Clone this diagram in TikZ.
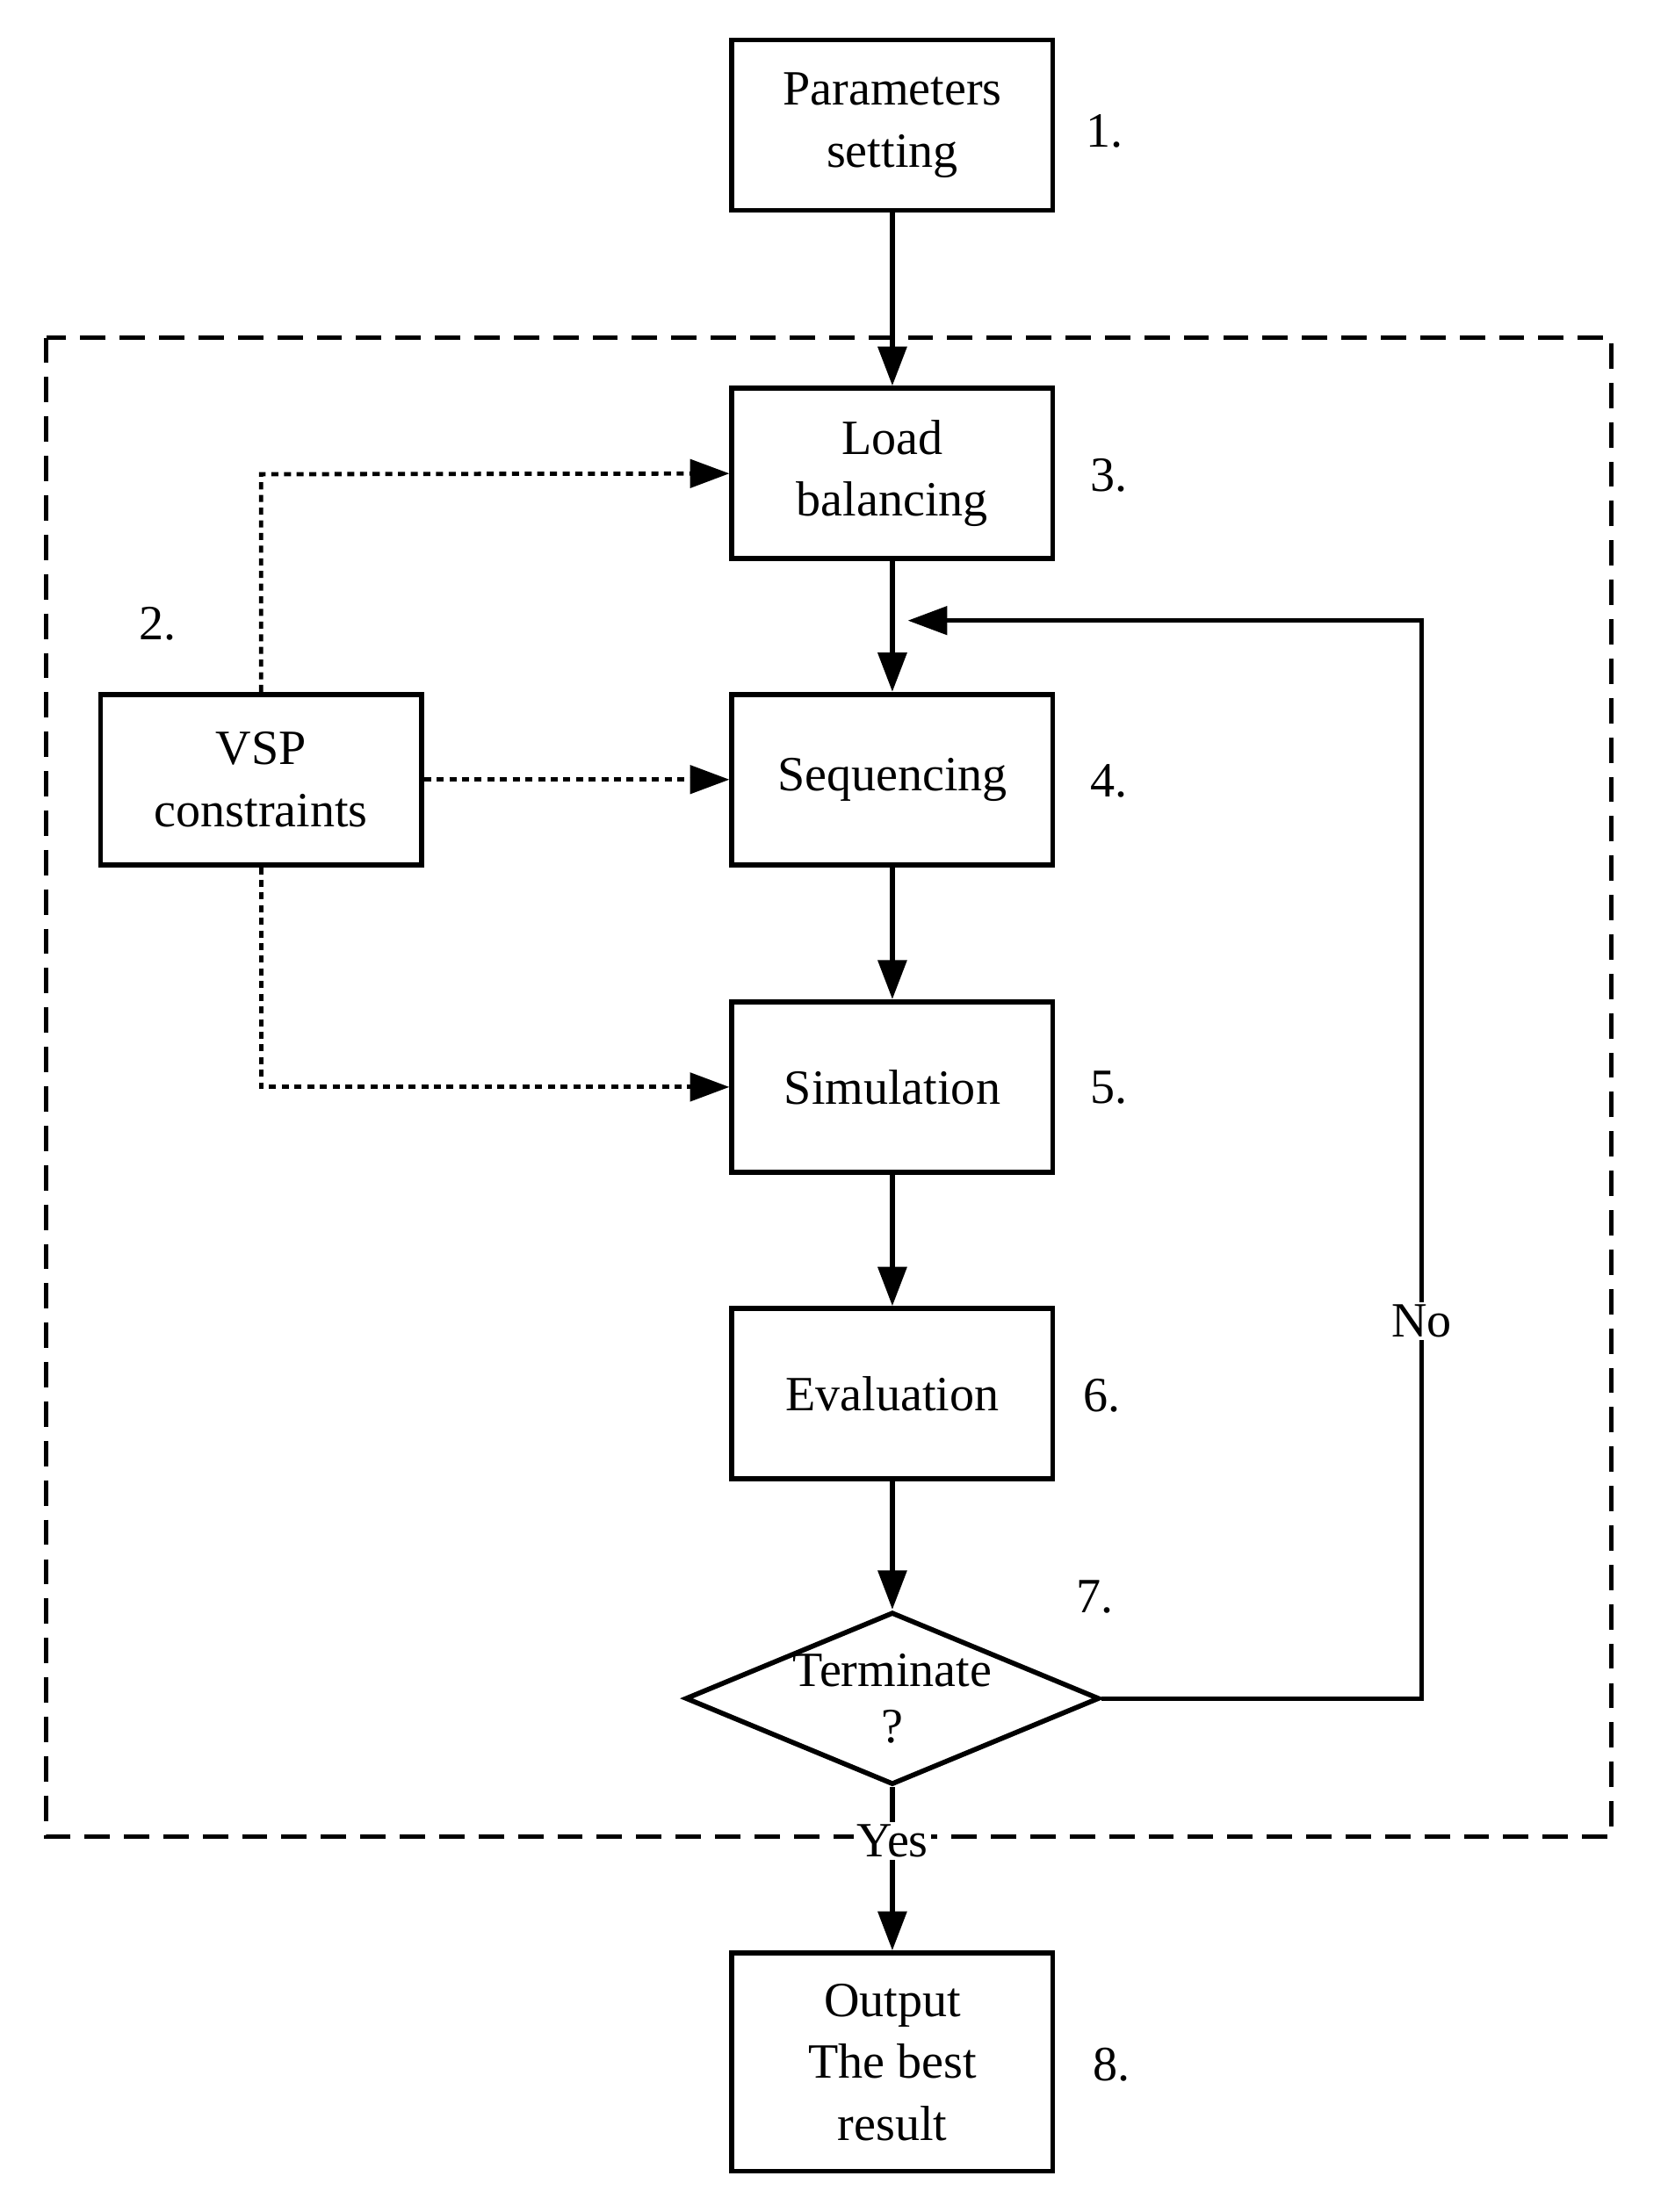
\documentclass[tikz,border=0pt]{standalone}
\usepackage{fontspec}
\setmainfont{Liberation Serif}
\usetikzlibrary{arrows.meta,shapes.geometric}
\begin{document}
\begin{tikzpicture}[x=1pt,y=-1pt,
  box/.style={draw,line width=3.5pt,minimum width=228pt,minimum height=121pt,align=center,inner sep=0pt,font=\fontsize{35}{44}\selectfont},
  lbl/.style={font=\fontsize{35}{44}\selectfont},
  arr/.style={line width=4pt,-{Triangle[length=28pt,width=20pt]}},
  dot/.style={line width=3pt,dash pattern=on 5pt off 4pt,-{Triangle[length=28pt,width=20pt]}}]
\useasboundingbox (0,0) rectangle (1185,1572);
\draw[line width=3pt,dash pattern=on 18pt off 10pt] (33,240) rectangle (1145,1305);
\node[box] (p) at (634,89) {Parameters\\setting};
\node[box] (lb) at (634,336.5) {Load\\balancing};
\node[box] (sq) at (634,554) {Sequencing};
\node[box] (sim) at (634,772.5) {Simulation};
\node[box] (ev) at (634,990.5) {Evaluation};
\node[draw,line width=3.5pt,diamond,aspect=2.4,minimum width=291pt,minimum height=121pt,inner sep=0pt,align=center,font=\fontsize{35}{40}\selectfont] (t) at (634,1207) {Terminate\\?};
\node[box,minimum height=155pt] (o) at (634,1465.5) {Output\\The best\\result};
\node[box] (v) at (185.5,554) {VSP\\constraints};
\node[lbl] (n1) at (785,93) {1.};
\node[lbl] (n2) at (112,443) {2.};
\node[lbl] (n3) at (788,338) {3.};
\node[lbl] (n4) at (788,555) {4.};
\node[lbl] (n5) at (788,773) {5.};
\node[lbl] (n6) at (783,992) {6.};
\node[lbl] (n7) at (778,1135) {7.};
\node[lbl] (n8) at (790,1467) {8.};
\draw[arr] (p) -- (lb);
\draw[arr] (lb) -- (sq);
\draw[arr] (sq) -- (sim);
\draw[arr] (sim) -- (ev);
\draw[arr] (ev) -- (t);
\draw[arr] (t) -- (o) node[pos=0.33,fill=white,lbl,inner sep=2pt] {Yes};
\coordinate (c1) at (1010,1207);
\coordinate (c2) at (1010,441);
\coordinate (c3) at (645,441);
\draw[line width=3pt,-{Triangle[length=28pt,width=20pt]}] (t.east) -- (c1) -- node[pos=0.35,fill=white,lbl,inner sep=2pt] {No} (c2) -- (c3);
\draw[dot] (v.north) -- (185.5,337) -- (lb.west);
\draw[dot] (v.east) -- (sq.west);
\draw[dot] (v.south) -- (185.5,772.5) -- (sim.west);
\end{tikzpicture}
\end{document}
